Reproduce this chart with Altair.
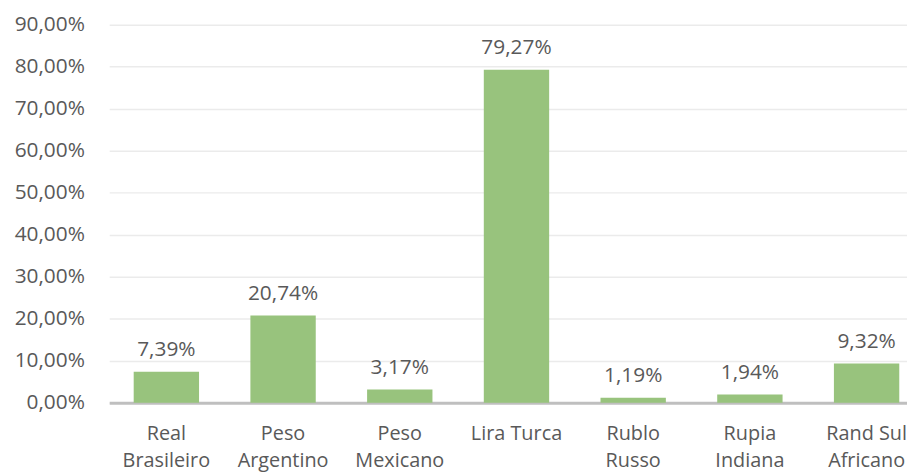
import altair as alt
import pandas as pd

categories = ["Real Brasileiro", "Peso Argentino", "Peso Mexicano", "Lira Turca",
              "Rublo Russo", "Rupia Indiana", "Rand Sul Africano"]
values = [0.0739, 0.2074, 0.0317, 0.7927, 0.0119, 0.0194, 0.0932]
labels = ["7,39%", "20,74%", "3,17%", "79,27%", "1,19%", "1,94%", "9,32%"]

df = pd.DataFrame({"cat": categories, "val": values, "lab": labels})

FONT = "Open Sans"
TXT = "#595959"
FS = 21

x = alt.X("cat:N", sort=categories, title=None,
          scale=alt.Scale(paddingInner=0.44, paddingOuter=0.138, align=0.76),
          axis=alt.Axis(labelAngle=0, labelFont=FONT, labelFontSize=20, labelColor=TXT,
                        labelPadding=21, labelLineHeight=27, ticks=False,
                        domainColor="#BFBFBF", domainWidth=3,
                        labelExpr="datum.label == 'Lira Turca' ? datum.label : "
                                  "(datum.label == 'Rand Sul Africano' ? ['Rand Sul', 'Africano'] : split(datum.label, ' '))"))
y = alt.Y("val:Q", title=None,
          scale=alt.Scale(domain=[0, 0.9], nice=False),
          axis=alt.Axis(values=[i / 10 for i in range(10)], labelFont=FONT, labelFontSize=FS,
                        labelColor=TXT, labelPadding=25, ticks=False, domain=False,
                        gridColor="#EBEBEB", gridWidth=1.5,
                        labelExpr="replace(format(datum.value, '.2%'), '.', ',')"))

bars = alt.Chart(df).mark_bar(color="#98C37D").encode(x=x, y=y)
text = alt.Chart(df).mark_text(baseline="alphabetic", dy=-16, font=FONT, fontSize=FS, color=TXT).encode(
    x=alt.X("cat:N", sort=categories), y="val:Q", text="lab:N")

chart = (bars + text).properties(
    width=804, height=381,
    autosize=alt.AutoSizeParams(type="none"),
    padding={"left": 102, "top": 15, "right": 0, "bottom": 70},
).configure(background="white").configure_view(stroke=None)

chart.save("out.html", embed_options={"renderer": "svg", "actions": False})
